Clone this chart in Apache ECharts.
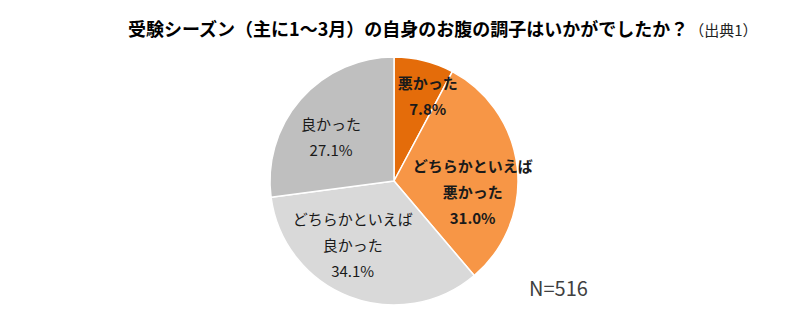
<!DOCTYPE html>
<html>
<head>
<meta charset="utf-8">
<script src="https://cdn.jsdelivr.net/npm/echarts@6/dist/echarts.min.js"></script>
<style>
  html, body { margin: 0; padding: 0; background: #fff; }
  #chart { width: 800px; height: 328px; }
</style>
</head>
<body>
<div id="chart"></div>
<script>
// Survey answers, in clockwise order from 12 o'clock
const categories = ['悪かった', 'どちらかといえば\n悪かった', 'どちらかといえば\n良かった', '良かった'];
const shares = [7.8, 31.0, 34.1, 27.1];
const titleText = '受験シーズン（主に1～3月）の自身のお腹の調子はいかがでしたか？';
const sourceText = '（出典1）';
const sampleText = 'N=516';

// Slice styling
const sliceColors = ['#E46C0A', '#F79646', '#D9D9D9', '#BFBFBF'];
const labelBold = [true, true, false, false];
// Nudges applied to the inside labels
const labelShift = [[18, -22], [14, 17], [-18, 3], [-14, -2]];

const font = '"Noto Sans CJK JP", "Noto Sans", sans-serif';

const chart = echarts.init(document.getElementById('chart'), null, { renderer: 'svg' });

chart.setOption({
  animation: false,
  backgroundColor: '#ffffff',
  title: [
    {
      text: '{main|' + titleText + '}{sub|' + sourceText + '}',
      left: 123,
      top: 14,
      textStyle: {
        rich: {
          main: { fontFamily: font, fontSize: 18, fontWeight: 'bold', color: '#000' },
          sub: { fontFamily: font, fontSize: 15, fontWeight: 'normal', color: '#222', padding: [3, 0, 0, 0] }
        }
      }
    },
    {
      text: sampleText,
      left: 524,
      top: 272,
      textStyle: { fontFamily: font, fontSize: 20, fontWeight: 'normal', color: '#404040' }
    }
  ],
  series: [{
    type: 'pie',
    center: [394, 181],
    radius: [0, 124],
    startAngle: 90,
    clockwise: true,
    avoidLabelOverlap: false,
    itemStyle: { borderColor: '#ffffff', borderWidth: 1.5 },
    label: {
      show: true,
      position: 'inside',
      fontFamily: font,
      fontSize: 15,
      lineHeight: 26,
      color: '#1a1a1a'
    },
    labelLine: { show: false },
    labelLayout: function (p) {
      const s = labelShift[p.dataIndex];
      return { dx: s[0], dy: s[1] };
    },
    data: categories.map(function (name, i) {
      return {
        name: name,
        value: shares[i],
        itemStyle: { color: sliceColors[i] },
        label: {
          fontWeight: labelBold[i] ? 'bold' : 'normal',
          formatter: function (p) { return p.name + '\n' + p.value.toFixed(1) + '%'; }
        }
      };
    })
  }]
});
</script>
</body>
</html>
